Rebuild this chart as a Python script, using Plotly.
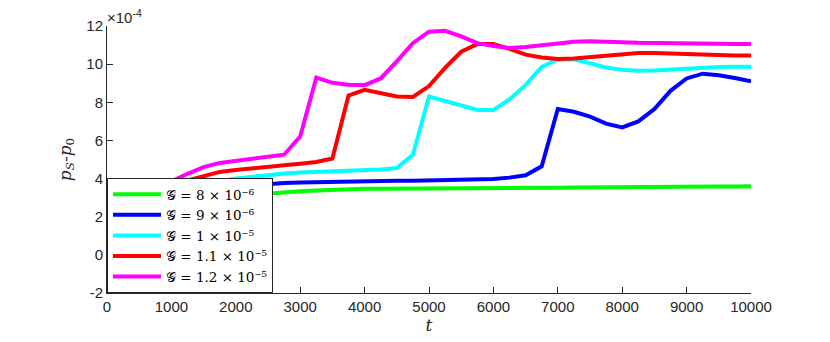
import plotly.graph_objects as go

# sampling times
t = [0, 250, 500, 750, 1000, 1250, 1500, 1750, 2000, 2250,
     2500, 2750, 3000, 3250, 3500, 3750, 4000, 4250, 4500, 4750,
     5000, 5250, 5500, 5750, 6000, 6250, 6500, 6750, 7000, 7250,
     7500, 7750, 8000, 8250, 8500, 8750, 9000, 9250, 9500, 9750, 10000]

# p_S - p_0 in units of 1e-4
g8e6 = [1.6, 1.9, 2.15, 2.35, 2.55, 2.7, 2.85, 2.97, 3.07, 3.15,
        3.22, 3.28, 3.33, 3.37, 3.41, 3.44, 3.46, 3.47, 3.47, 3.48,
        3.48, 3.49, 3.49, 3.5, 3.5, 3.51, 3.51, 3.52, 3.52, 3.53,
        3.53, 3.54, 3.54, 3.55, 3.56, 3.56, 3.57, 3.58, 3.58, 3.59, 3.6]
g9e6 = [2.1, 2.4, 2.65, 2.85, 3.05, 3.2, 3.35, 3.47, 3.57, 3.64,
        3.72, 3.77, 3.8, 3.82, 3.84, 3.85, 3.87, 3.87, 3.88, 3.89,
        3.9, 3.91, 3.93, 3.95, 3.98, 4.05, 4.17, 4.64, 7.65, 7.5,
        7.25, 6.88, 6.68, 7.0, 7.65, 8.6, 9.25, 9.5, 9.42, 9.27, 9.1]
g1e5 = [2.3, 2.6, 2.85, 3.1, 3.3, 3.5, 3.68, 3.85, 4.0, 4.1,
        4.2, 4.27, 4.32, 4.35, 4.37, 4.39, 4.42, 4.47, 4.55, 5.25,
        8.3, 8.05, 7.85, 7.6, 7.6, 8.15, 8.9, 9.85, 10.25, 10.25,
        10.05, 9.82, 9.7, 9.65, 9.67, 9.72, 9.78, 9.82, 9.85, 9.86, 9.86]
g11e5 = [2.5, 2.8, 3.05, 3.3, 3.55, 3.9, 4.15, 4.35, 4.45, 4.55,
         4.62, 4.7, 4.78, 4.87, 5.05, 8.35, 8.65, 8.5, 8.3, 8.28,
         8.85, 9.8, 10.65, 11.05, 11.05, 10.8, 10.5, 10.35, 10.27, 10.3,
         10.38, 10.47, 10.55, 10.58, 10.58, 10.55, 10.52, 10.48, 10.46, 10.45, 10.45]
g12e5 = [2.6, 2.9, 3.2, 3.5, 3.85, 4.25, 4.6, 4.82, 4.92, 5.02,
         5.12, 5.25, 6.2, 9.3, 9.02, 8.92, 8.9, 9.25, 10.15, 11.1,
         11.7, 11.75, 11.45, 11.1, 10.95, 10.85, 10.9, 11.0, 11.1, 11.17,
         11.2, 11.2, 11.15, 11.12, 11.1, 11.08, 11.07, 11.07, 11.07, 11.06, 11.06]

x_ticks = [0, 1000, 2000, 3000, 4000, 5000, 6000, 7000, 8000, 9000, 10000]
y_ticks = [-2, 0, 2, 4, 6, 8, 10, 12]

series = [
    ("𝒢 = 8 × 10⁻⁶", g8e6, "#00ff00"),
    ("𝒢 = 9 × 10⁻⁶", g9e6, "#0000ff"),
    ("𝒢 = 1 × 10⁻⁵", g1e5, "#00ffff"),
    ("𝒢 = 1.1 × 10⁻⁵", g11e5, "#ff0000"),
    ("𝒢 = 1.2 × 10⁻⁵", g12e5, "#ff00ff"),
]

axis_col = "#262626"
serif = "DejaVu Serif, Liberation Serif, serif"
sans = "Liberation Sans, Arial, sans-serif"

fig = go.Figure()
for name, vals, col in series:
    fig.add_trace(
        go.Scatter(x=t, y=vals, mode="lines", name=name,
                   line=dict(color=col, width=4))
    )

# page body has an 8px margin, so the margins are shifted by 8px
fig.update_layout(
    width=830,
    height=342,
    margin=dict(l=99, r=87, t=18, b=57),
    plot_bgcolor="white",
    paper_bgcolor="white",
    font=dict(family=sans, size=15, color=axis_col),
    showlegend=True,
    legend=dict(
        x=0, y=0, xanchor="left", yanchor="bottom",
        bgcolor="white", bordercolor=axis_col, borderwidth=1,
        font=dict(family=serif, size=13.5, color="black"),
        tracegroupgap=0, itemwidth=48,
    ),
)

fig.update_xaxes(
    range=[0, 10000], tickvals=x_ticks, ticktext=[str(v) for v in x_ticks],
    ticks="inside", ticklen=6, tickcolor=axis_col, showline=True, linecolor=axis_col,
    linewidth=1, showgrid=False, zeroline=False, automargin=False,
    title=dict(text="<i>t</i>", font=dict(family=serif, size=17), standoff=2),
)
fig.update_yaxes(
    range=[-2, 12], tickvals=y_ticks, ticktext=[str(v) for v in y_ticks],
    ticks="inside", ticklen=6, tickcolor=axis_col, showline=True, linecolor=axis_col,
    linewidth=1, showgrid=False, zeroline=False, automargin=False,
    title=dict(text="<i>p</i><sub><i>S</i></sub>-<i>p</i><sub>0</sub>",
               font=dict(family=serif, size=17), standoff=10),
)

fig.add_annotation(
    text="×10<sup>-4</sup>", xref="paper", yref="paper", x=0, y=1,
    xanchor="left", yanchor="bottom", showarrow=False, xshift=-2, yshift=-2,
    font=dict(family=sans, size=15, color=axis_col),
)

fig.write_html("out.html")
